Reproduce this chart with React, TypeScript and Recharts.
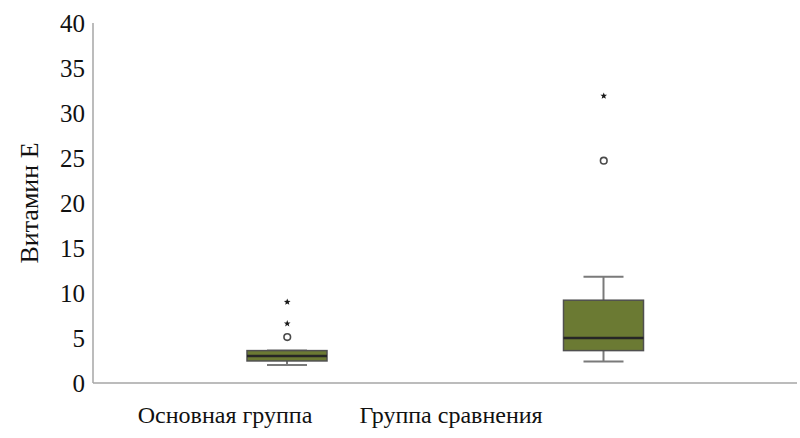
import React from 'react';
import { ComposedChart, Bar, Line, XAxis, YAxis } from 'recharts';

const groups = ['Основная группа', 'Группа сравнения'];
const minVals = [2.0, 2.4];
const q1Vals = [2.45, 3.6];
const medianVals = [3.0, 5.0];
const q3Vals = [3.6, 9.2];
const maxVals = [3.6, 11.8];
const circleOutliers = [5.1, 24.7];
const starOutliersA = [6.6, 31.9];
const starOutliersB: (number | null)[] = [9.0, null];
const yTicks = [0, 5, 10, 15, 20, 25, 30, 35, 40];

const data = groups.map((g, i) => ({
  group: g,
  box: [q1Vals[i], q3Vals[i]],
  min: minVals[i],
  q1: q1Vals[i],
  median: medianVals[i],
  q3: q3Vals[i],
  max: maxVals[i],
  circle: circleOutliers[i],
  starA: starOutliersA[i],
  starB: starOutliersB[i],
}));

const FONT = '"Liberation Serif", "DejaVu Serif", serif';

const BoxShape = (props: any) => {
  const { x, y, width, height, payload } = props;
  if (x == null || y == null) return null;
  const top = Math.min(y, y + height);
  const h = Math.abs(height);
  const { q1, q3, min, max, median } = payload;
  const toPx = (v: number) => top + ((q3 - v) * h) / (q3 - q1);
  const cx = x + width / 2;
  const capHalf = width / 4;
  const wColor = '#7a7a7a';
  return (
    <g>
      <line x1={cx} x2={cx} y1={toPx(max)} y2={toPx(q3)} stroke={wColor} strokeWidth={2} />
      <line x1={cx} x2={cx} y1={toPx(q1)} y2={toPx(min)} stroke={wColor} strokeWidth={2} />
      <line x1={cx - capHalf} x2={cx + capHalf} y1={toPx(max)} y2={toPx(max)} stroke={wColor} strokeWidth={2} />
      <line x1={cx - capHalf} x2={cx + capHalf} y1={toPx(min)} y2={toPx(min)} stroke={wColor} strokeWidth={2} />
      <rect x={x} y={top} width={width} height={h} fill="#6b7a33" stroke="#505050" strokeWidth={1.5} />
      <line x1={x} x2={x + width} y1={toPx(median)} y2={toPx(median)} stroke="#262626" strokeWidth={2.5} />
    </g>
  );
};

const CircleDot = (props: any) => {
  const { cx, cy, value } = props;
  if (cx == null || cy == null || value == null) return <g key={props.key} />;
  return <circle key={props.key} cx={cx} cy={cy} r={3.3} fill="#fff" stroke="#4a4a4a" strokeWidth={1.6} />;
};

const StarDot = (props: any) => {
  const { cx, cy, value } = props;
  if (cx == null || cy == null || value == null) return <g key={props.key} />;
  const pts: string[] = [];
  for (let k = 0; k < 10; k++) {
    const r = k % 2 === 0 ? 3.5 : 1.5;
    const a = -Math.PI / 2 + (k * Math.PI) / 5;
    pts.push(`${cx + r * Math.cos(a)},${cy + r * Math.sin(a)}`);
  }
  return <polygon key={props.key} points={pts.join(' ')} fill="#1a1a1a" />;
};

export default function App() {
  return (
    <div style={{ position: 'absolute', left: 0, top: 0, width: 800, height: 438, background: '#fff' }}>
      <ComposedChart width={800} height={438} data={data} margin={{ top: 23, right: 3, bottom: 0, left: 0 }}>
        <XAxis xAxisId="box" dataKey="group" type="category" hide height={0} padding={{ left: 36, right: 35 }} />
        <XAxis
          xAxisId="lab"
          dataKey="group"
          type="category"
          height={55}
          padding={{ left: 19, right: 233 }}
          axisLine={{ stroke: '#a6a6a6', strokeWidth: 1.5 }}
          tickLine={false}
          tickMargin={17}
          tick={{ fill: '#111', fontSize: 24, fontFamily: FONT }}
          interval={0}
        />
        <YAxis
          domain={[0, 40]}
          ticks={yTicks}
          width={93}
          interval={0}
          axisLine={{ stroke: '#a6a6a6', strokeWidth: 1.5 }}
          tickLine={false}
          tick={{ fill: '#111', fontSize: 25, fontFamily: FONT }}
          label={{ value: 'Витамин Е', angle: -90, position: 'center', dx: -18, style: { fill: '#111', fontSize: 26, fontFamily: FONT } }}
        />
        <Bar xAxisId="box" dataKey="box" barSize={80} shape={BoxShape} isAnimationActive={false} />
        <Line xAxisId="box" dataKey="circle" stroke="none" dot={CircleDot} activeDot={false} isAnimationActive={false} connectNulls={false} />
        <Line xAxisId="box" dataKey="starA" stroke="none" dot={StarDot} activeDot={false} isAnimationActive={false} />
        <Line xAxisId="box" dataKey="starB" stroke="none" dot={StarDot} activeDot={false} isAnimationActive={false} />
      </ComposedChart>
    </div>
  );
}
